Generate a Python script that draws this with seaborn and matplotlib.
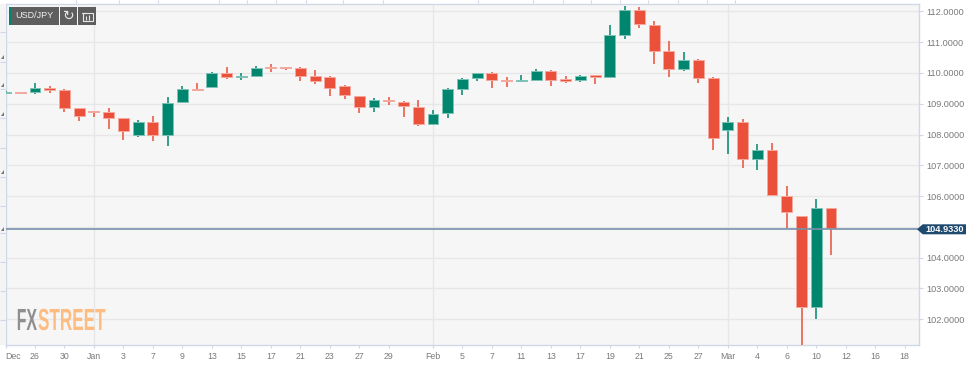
import matplotlib
matplotlib.use("Agg")
import matplotlib.pyplot as plt
import matplotlib.patheffects as pe
from matplotlib.patches import Polygon, Rectangle
from matplotlib.transforms import Affine2D
import seaborn as sns
import numpy as np

# USD/JPY daily candles
opens = [109.36, 109.37, 109.37, 109.52, 109.44, 108.87, 108.75, 108.72, 108.54, 107.97,
         108.41, 108.00, 109.05, 109.49, 109.54, 110.00, 109.86, 109.89, 110.18, 110.18,
         110.16, 109.90, 109.86, 109.56, 109.26, 108.88, 109.12, 109.06, 108.90, 108.35,
         108.69, 109.47, 109.82, 109.99, 109.76, 109.74, 109.78, 110.06, 109.79, 109.77,
         109.92, 109.86, 111.24, 112.06, 111.55, 110.72, 110.12, 110.43, 109.82, 108.14,
         108.42, 107.21, 107.50, 106.01, 105.37, 102.39, 105.63]
closes = [109.39, 109.35, 109.52, 109.46, 108.87, 108.61, 108.72, 108.55, 108.10, 108.41,
          107.98, 109.02, 109.49, 109.45, 110.01, 109.86, 109.89, 110.17, 110.16, 110.15,
          109.91, 109.74, 109.50, 109.28, 108.89, 109.11, 109.08, 108.92, 108.35, 108.68,
          109.47, 109.81, 109.99, 109.76, 109.73, 109.77, 110.06, 109.78, 109.75, 109.91,
          109.86, 111.23, 112.06, 111.59, 110.72, 110.12, 110.43, 109.84, 107.90, 108.42,
          107.21, 107.50, 106.03, 105.50, 102.39, 105.63, 104.95]
highs = [109.40, 109.38, 109.66, 109.59, 109.47, 108.87, 108.75, 108.85, 108.54, 108.47,
         108.60, 109.23, 109.58, 109.66, 110.03, 110.19, 109.99, 110.23, 110.28, 110.20,
         110.19, 110.10, 109.89, 109.61, 109.26, 109.19, 109.23, 109.09, 109.13, 108.80,
         109.52, 109.85, 109.99, 110.03, 109.86, 109.93, 110.12, 110.10, 109.89, 109.93,
         109.92, 111.57, 112.19, 112.15, 111.69, 111.03, 110.69, 110.45, 109.86, 108.56,
         108.49, 107.68, 107.72, 106.34, 105.37, 105.90, 105.63]
lows = [109.35, 109.34, 109.33, 109.36, 108.74, 108.45, 108.58, 108.19, 107.83, 107.91,
        107.80, 107.63, 109.05, 109.42, 109.52, 109.80, 109.77, 109.88, 110.04, 110.11,
        109.75, 109.65, 109.26, 109.16, 108.71, 108.74, 108.95, 108.56, 108.29, 108.30,
        108.54, 109.28, 109.73, 109.51, 109.54, 109.71, 109.77, 109.59, 109.67, 109.71,
        109.64, 109.86, 111.10, 111.45, 110.30, 109.88, 110.06, 109.67, 107.50, 107.38,
        106.92, 106.86, 106.03, 104.96, 101.10, 102.00, 104.10]
last_price = 104.933

date_ticks = [0, 2, 4, 6, 8, 10, 12, 14, 16, 18, 20, 22, 24, 26, 29, 31, 33, 35, 37, 39,
              41, 43, 45, 47, 49, 51, 53, 55, 57, 59, 61]
date_labels = ["Dec", "26", "30", "Jan", "3", "7", "9", "13", "15", "17", "21", "23", "27",
               "29", "Feb", "5", "7", "11", "13", "17", "19", "21", "25", "27", "Mar", "4",
               "6", "10", "12", "16", "18"]
month_ticks = [6, 29, 49]
price_ticks = [102, 103, 104, 105, 106, 107, 108, 109, 110, 111, 112]
price_labels = ["102.0000", "103.0000", "104.0000", "", "106.0000", "107.0000", "108.0000",
                "109.0000", "110.0000", "111.0000", "112.0000"]

GREEN = "#00866f"
RED = "#ea503a"
GRID = "#e7e7e7"
AXIS = "#cfd8e6"
TXT = "#7a7a7a"
W, H = 967, 367


class Squeeze(pe.AbstractPathEffect):
    # narrows a text around x0 and shifts it by dx, the logo font is condensed
    def __init__(self, sx, x0, dx):
        super().__init__()
        self.sx = sx
        self.x0 = x0
        self.dx = dx

    def draw_path(self, renderer, gc, tpath, affine, rgbFace=None):
        t = affine + Affine2D().translate(-self.x0, 0).scale(self.sx, 1).translate(self.x0 + self.dx, 0)
        renderer.draw_path(gc, tpath, t, rgbFace)


sns.set_style("white")
plt.rcParams["font.family"] = ["Liberation Sans", "DejaVu Sans"]

opens = np.array(opens)
closes = np.array(closes)
highs = np.array(highs)
lows = np.array(lows)
x = np.arange(len(opens))
up = closes >= opens

fig = plt.figure(figsize=(W / 100, H / 100), dpi=100, facecolor="white")
ax = fig.add_axes([5.5 / W, 1 - 345 / H, (919 - 5.5) / W, (345 - 3.5) / H], facecolor="#f6f6f6")

ax.vlines(x[up], lows[up], highs[up], color=GREEN, lw=1.1, zorder=3)
ax.vlines(x[~up], lows[~up], highs[~up], color=RED, lw=1.1, zorder=3)

sns.barplot(x=x[up], y=(closes - opens)[up], bottom=opens[up], native_scale=True, width=0.74,
            color=GREEN, saturation=1, errorbar=None, edgecolor="#7fc2b6", linewidth=0.7,
            zorder=4, ax=ax)
sns.barplot(x=x[~up], y=(opens - closes)[~up], bottom=closes[~up], native_scale=True, width=0.74,
            color=RED, saturation=1, errorbar=None, edgecolor="#f6a99e", linewidth=0.7,
            zorder=4, ax=ax)

ax.set_xlim(0.04, 61.97)
ax.set_ylim(101.165, 112.255)
ax.set_xlabel("")
ax.set_ylabel("")

ax.yaxis.tick_right()
ax.set_yticks(price_ticks, price_labels)
ax.set_xticks(date_ticks, date_labels)
ax.get_xticklabels()[0].set_ha("left")
ax.tick_params(axis="y", length=3, width=0.8, color=AXIS, labelcolor=TXT, labelsize=6.6, pad=2)
ax.tick_params(axis="x", length=2, width=0.8, color=AXIS, labelcolor=TXT, labelsize=6.3, pad=3)
ax.tick_params(axis="both", which="both", bottom=True, right=True, left=False, top=False)

ax.grid(False)
for p in price_ticks:
    ax.axhline(p, color=GRID, lw=1, zorder=1)
for m in month_ticks:
    ax.axvline(m, color=GRID, lw=1, zorder=1)
ax.axhline(last_price, color="#7590aa", lw=1.2, zorder=5)

sns.despine(ax=ax, top=False, right=False, left=False, bottom=False)
for s in ax.spines.values():
    s.set_color(AXIS)
    s.set_linewidth(1)

# everything around the plot is placed in pixels on an overlay
ov = fig.add_axes([0, 0, 1, 1], facecolor="none")
ov.set_xlim(0, W)
ov.set_ylim(H, 0)
ov.axis("off")

# toolbar top left
ov.add_patch(Rectangle((9, 7), 2, 18, color=GREEN, lw=0, zorder=6))
for x0, x1 in [(11, 58.7), (60, 77), (78, 96)]:
    ov.add_patch(Rectangle((x0, 7), x1 - x0, 18, color="#5e5e5e", lw=0, zorder=6))
ov.text(34.8, 15.2, "USD/JPY", color="#f2f2f2", fontsize=6.5, ha="center", va="center", zorder=7)
ov.text(68.6, 16.2, "\u21bb", color="#e8e8e8", fontsize=10, ha="center", va="center",
        family="DejaVu Sans", zorder=7)
ov.add_patch(Rectangle((83, 12.5), 9.5, 8, fill=False, ec="#e8e8e8", lw=0.8, zorder=7))
ov.plot([82, 86], [12.5, 12.5], color="#e8e8e8", lw=0.8, zorder=7)
ov.vlines([86, 88.5], [16, 15], [19.5, 19.5], color="#e8e8e8", lw=0.8, zorder=7)

# price tag
ov.add_patch(Polygon([(917, 229.3), (922.7, 224.3), (966, 224.3), (966, 234.3), (922.7, 234.3)],
                     color="#1f4a70", lw=0, zorder=6))
ov.text(944.6, 229.5, f"{last_price:.4f}", color="white", fontsize=6.6, fontweight="bold",
        ha="center", va="center", zorder=7)

# logo, FX hangs off its right edge so the two texts only touch
logo_fx = ov.text(41, 330, "FX", color="#8f8f8f", fontsize=22, fontweight="bold",
                  ha="right", va="baseline", zorder=2)
logo_fx.set_path_effects([Squeeze(0.52, 41, -4)])
logo_st = ov.text(42, 330, "STREET", color="#fdbd82", fontsize=22, fontweight="bold",
                  ha="left", va="baseline", zorder=2)
logo_st.set_path_effects([Squeeze(0.56, 42, -4)])

# left strip with scroll buttons
ov.add_patch(Rectangle((0, 4), 5.5, 341, color="#f4f4f4", lw=0, zorder=1))
ov.hlines([32, 62, 89, 118, 148, 177, 206, 233, 262, 291, 320], 0, 5.5, color=AXIS, lw=0.8, zorder=2)
for ty in [57, 85, 114, 172, 229]:
    ov.add_patch(Polygon([(0.5, ty + 2), (3.5, ty + 2), (3.5, ty - 2)], color="#777777", lw=0, zorder=3))

# top strip ticks
ov.vlines([76, 119, 158, 219, 247, 276, 306, 343, 383, 478, 533, 563, 591, 620, 648, 678, 707, 735],
          0, 3, color=AXIS, lw=0.8, zorder=2)

fig.savefig("out.png", dpi=100)
